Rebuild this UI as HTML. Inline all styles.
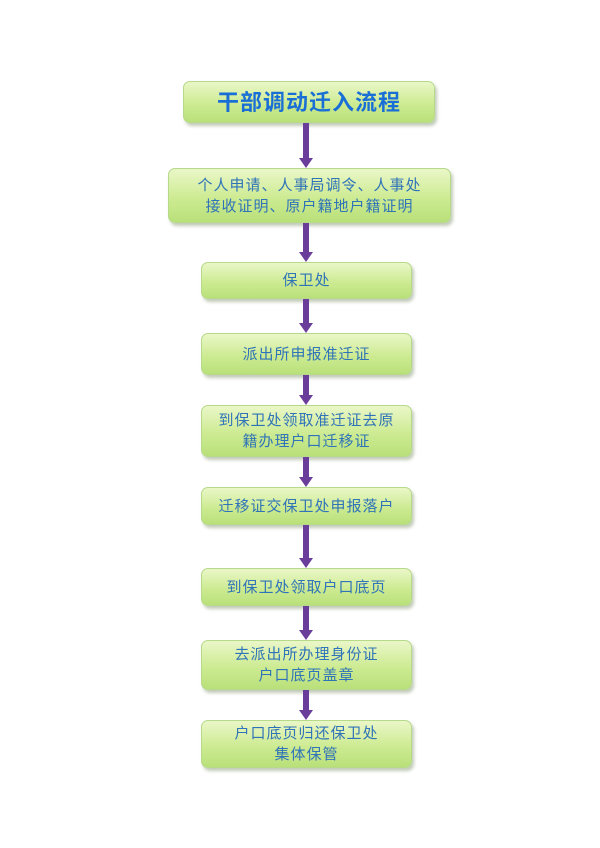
<!DOCTYPE html>
<html><head><meta charset="utf-8"><style>
body{margin:0;width:600px;height:848px;background:#fff;position:relative;font-family:"Liberation Sans","Noto Sans CJK SC",sans-serif;overflow:hidden}
.b{position:absolute;box-sizing:border-box;border-radius:7px;background:linear-gradient(180deg,#eaf7c8 0%,#cdeb92 55%,#b9e07a 100%);border:1px solid #b6d98a;box-shadow:2px 3px 3px rgba(120,140,100,.45);color:#2f73b8;font-size:15px;line-height:21px;text-align:center;display:flex;align-items:center;justify-content:center;letter-spacing:1px}
.t{color:#1a6fd6;font-size:22px;font-weight:bold;letter-spacing:1px}
.a{position:absolute;left:303px;width:6px;background:#6a3d9a}
.h{position:absolute;left:299px;width:0;height:0;border-left:7px solid transparent;border-right:7px solid transparent;border-top:10px solid #6a3d9a}
</style></head><body>
<div class="b t" style="left:183px;top:81px;width:252px;height:42px">干部调动迁入流程</div>
<div class="b" style="left:168px;top:168px;width:283px;height:55px">个人申请、人事局调令、人事处<br>接收证明、原户籍地户籍证明</div>
<div class="b" style="left:201px;top:262px;width:211px;height:37px">保卫处</div>
<div class="b" style="left:201px;top:333px;width:211px;height:42px">派出所申报准迁证</div>
<div class="b" style="left:201px;top:405px;width:211px;height:52px">到保卫处领取准迁证去原<br>籍办理户口迁移证</div>
<div class="b" style="left:201px;top:487px;width:211px;height:38px">迁移证交保卫处申报落户</div>
<div class="b" style="left:201px;top:568px;width:211px;height:38px">到保卫处领取户口底页</div>
<div class="b" style="left:201px;top:640px;width:211px;height:50px">去派出所办理身份证<br>户口底页盖章</div>
<div class="b" style="left:201px;top:720px;width:211px;height:48px">户口底页归还保卫处<br>集体保管</div>

<div class="a" style="top:123px;height:36px"></div><div class="h" style="top:158px"></div>
<div class="a" style="top:223px;height:30px"></div><div class="h" style="top:252px"></div>
<div class="a" style="top:299px;height:25px"></div><div class="h" style="top:323px"></div>
<div class="a" style="top:375px;height:21px"></div><div class="h" style="top:395px"></div>
<div class="a" style="top:457px;height:21px"></div><div class="h" style="top:477px"></div>
<div class="a" style="top:525px;height:34px"></div><div class="h" style="top:558px"></div>
<div class="a" style="top:606px;height:25px"></div><div class="h" style="top:630px"></div>
<div class="a" style="top:690px;height:21px"></div><div class="h" style="top:710px"></div>
</body></html>
